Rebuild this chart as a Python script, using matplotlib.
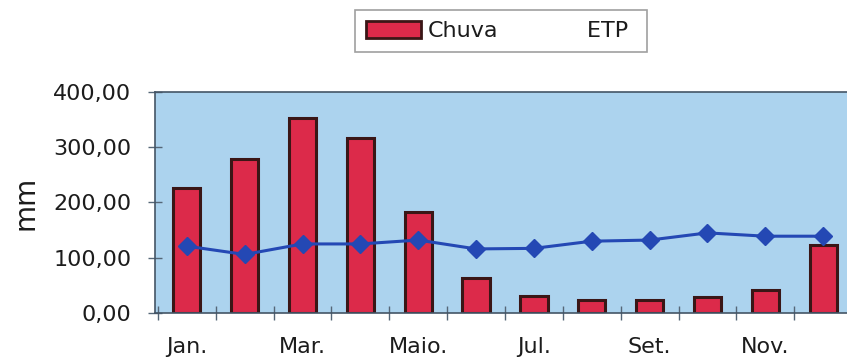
import numpy as np
import matplotlib
matplotlib.use("Agg")
import matplotlib.pyplot as plt
from matplotlib.lines import Line2D
from matplotlib.patches import Patch
from matplotlib.ticker import FuncFormatter

# dados mensais (mm)
meses = ["Jan.", "Fev.", "Mar.", "Abr.", "Maio.", "Jun.",
         "Jul.", "Ago.", "Set.", "Out.", "Nov.", "Dez."]
chuva = [226, 279, 352, 317, 183, 64, 31, 24, 24, 29, 42, 123]
etp = [121, 106, 125, 125, 132, 116, 117, 130, 132, 145, 139, 139]
yticks = [0, 100, 200, 300, 400]

cor_fundo = "#acd3ee"
cor_barra = "#dc2a4a"
cor_borda = "#3a1616"
cor_linha = "#2448b4"
cor_texto = "#1c1c1c"

fig = plt.figure(figsize=(8.47, 3.59), dpi=100)
ax = fig.add_axes([0.183, 0.128, 0.823, 0.616])
ax.set_facecolor(cor_fundo)

x = np.arange(len(meses))
ax.bar(x, chuva, width=0.47, color=cor_barra, edgecolor=cor_borda,
       linewidth=2.2, zorder=2)
ax.plot(x, etp, color=cor_linha, lw=2.2, marker="D", markersize=9.5,
        markerfacecolor=cor_linha, markeredgecolor=cor_linha, zorder=3)

ax.set_xlim(-0.55, 11.5)
ax.set_ylim(0, 400)

# rotulos so nos meses impares, marcas entre as barras
ax.set_xticks(x[::2])
ax.set_xticklabels(meses[::2])
ax.set_xticks(np.arange(-0.5, 11.5, 1.0), minor=True)
ax.tick_params(axis="x", which="major", length=0, pad=17, labelsize=16,
               labelcolor=cor_texto)
ax.tick_params(axis="x", which="minor", direction="inout", length=10,
               width=1, color="#556677")

ax.set_yticks(yticks)
ax.yaxis.set_major_formatter(FuncFormatter(lambda v, p: f"{v:.2f}".replace(".", ",")))
ax.tick_params(axis="y", direction="inout", length=10, width=1,
               color="#556677", pad=12, labelsize=16, labelcolor=cor_texto)
ax.set_ylabel("mm", fontsize=20, color=cor_texto, labelpad=10)

for lado in ["top", "left", "bottom"]:
    ax.spines[lado].set_color("#445566")
    ax.spines[lado].set_linewidth(1.2)
ax.spines["right"].set_visible(False)

handles = [Patch(facecolor=cor_barra, edgecolor=cor_borda, linewidth=2),
           Line2D([], [], color="none")]
leg = fig.legend(handles, ["Chuva", "ETP "], loc="center",
                 bbox_to_anchor=(0.591, 0.914), ncol=2, fontsize=16,
                 frameon=True, fancybox=False, edgecolor="#888888",
                 handlelength=2.5, handleheight=0.8, handletextpad=0.3,
                 columnspacing=1.2, borderpad=0.5)
leg.get_frame().set_linewidth(1.2)
for t in leg.get_texts():
    t.set_color(cor_texto)

fig.savefig("out.png", dpi=100, facecolor="white")
